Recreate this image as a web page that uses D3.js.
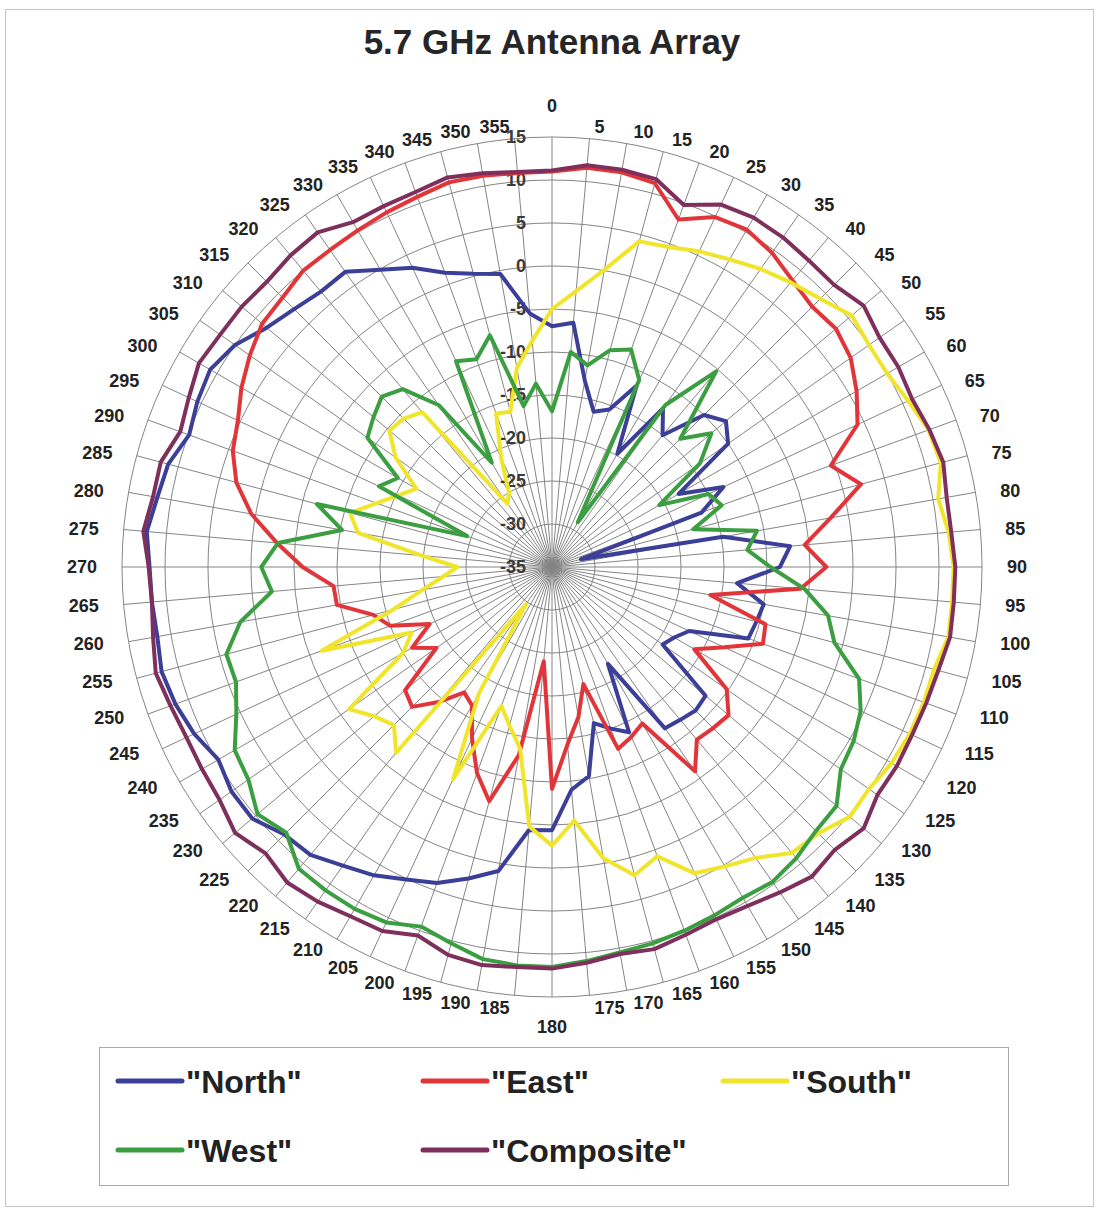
<!DOCTYPE html>
<html>

<head>
    <meta charset="utf-8">
    <script src="https://d3js.org/d3.v7.min.js"></script>
    <style>
        body { margin: 0; background: #fff; }
        text { font-family: "Liberation Sans", Arial, sans-serif; font-weight: bold; }
    </style>
</head>

<body>
    <div id="svg"></div>
    <script>

        // angles, one every 5 degrees
        var angles = d3.range(0, 360, 5);

        // radial ticks (dB)
        var rTicks = [-35, -30, -25, -20, -15, -10, -5, 0, 5, 10, 15];

        // series names and colours
        var names = ['"North"', '"East"', '"South"', '"West"', '"Composite"'];
        var colors = ["#3c3f97", "#e2353a", "#f1e52c", "#3b9e40", "#7e2f5b"];

        // values, 0..355 deg
        var north = [-7, -6.5, -13, -16.3, -15.5, -11.7, -19.8, -12.5, -15, -10, -8.6, -10,
            -18, -13, -16.5, -31.5, -14.8, -7.2, -8.5, -13.4, -10, -10.4, -10.7, -17.4,
            -18.6, -19.3, -11.7, -11.4, -11.8, -12.1, -22, -13.8, -15, -16.2, -10.3, -9,
            -4.4, -4.3, 0.9, 2.5, 4.1, 5.1, 6.4, 7.4, 8.7, 9.0, 10.5, 10.5,
            9.8, 10.9, 11.6, 12.0, 11.6, 11.7, 11.8, 12.3, 11.6, 11.2, 9.9, 10.5,
            10.9, 10.0, 8.3, 7.4, 6.8, 6.9, 4.9, 3.4, 1.4, 0.3, -0.4, -5.4];

        var east = [11, 11.6, 11.6, 11.2, 8, 9.9, 10.3, 9.6, 8.5, 7.8, 8.1, 7.4,
            5.9, 4.2, -0.5, 2.2, -2.1, -5.5, -3.1, -6, -16.3, -9.3, -8.9, -12.9,
            -15.9, -10.2, -8.2, -8.5, -8.8, -6, -14, -13.2, -12.5, -20.9, -17.3, -14.3,
            -9.2, -24, -12.8, -6.8, -9.5, -13, -16.4, -17.2, -14.5, -12, -12.7, -18.6,
            -16.2, -19.3, -15, -13.5, -9.6, -9.5, -6, -2.9, 0.5, 3, 4.5, 5.3,
            6.7, 7.9, 9, 9.3, 10, 10, 10.2, 10.5, 10.8, 11.3, 11.2, 11];

        var south = [-5, -2.8, 0.1, 4.2, 4.6, 5.5, 6.3, 7.3, 8.2, 9.1, 10.5, 10,
            10, 10.7, 11.6, 11.8, 10.6, 11.3, 11.7, 11.7, 11.8, 11, 11, 10.9,
            10.6, 10, 10.2, 8.8, 8.4, 6.3, 5.2, 4.3, 0.8, 2.1, -0.6, -5.4,
            -2.6, -4.7, -13.6, -15.9, -17.8, -7.8, -18, -29.7, -6.8, -9, -8, -6.2,
            -15, -17, -6.5, -15.9, -19.7, -22.3, -24, -19.8, -12.1, -10.7, -13.3, -15.3,
            -16.8, -12.8, -10.3, -10.6, -11.5, -26, -25, -21, -16, -16.3, -11.5, -8.6];

        var west = [-16.9, -9.9, -11.2, -8.9, -8.1, -11, -29, -12, -5.3, -13.9, -10.8, -14,
            -20.6, -14.9, -14, -18, -10.8, -12.2, -9.6, -5.5, -2.4, -1, 3, 4.6,
            5.5, 6, 8.2, 8.4, 9.2, 9.7, 9.4, 9.7, 10, 10.3, 10.5, 11,
            11.5, 11.5, 11.3, 10.3, 9.5, 10.6, 10.9, 10.9, 10.8, 8.7, 9.7, 8.1,
            7.6, 5.5, 4.1, 4.2, 1.8, -2.3, -1.2, -3, -10.2, -6.7, -24.5, -12.8,
            -14.3, -8.8, -7.9, -7, -8, -12, -21, -8.6, -9.3, -7.1, -16, -13.6];

        var composite = [11.1, 11.9, 11.9, 11.7, 9.8, 11.5, 11.9, 11.8, 11.5, 11.4, 12.3, 11.5,
            11.5, 11.2, 11.7, 12.1, 11.6, 11.6, 11.9, 11.9, 12.0, 11.5, 11.3, 11.2,
            11.3, 11.2, 12.3, 11.5, 12.0, 11.2, 10.5, 10.2, 10.5, 11.0, 10.7, 11.2,
            11.7, 11.7, 12.0, 11.7, 10.6, 11.7, 11.9, 12.5, 12.9, 12.1, 13.1, 12.2,
            12.0, 11.9, 12.2, 12.7, 12.1, 11.7, 11.9, 12.7, 12.1, 12.1, 11.0, 11.6,
            12.4, 12.1, 12.1, 11.9, 12.3, 12.5, 11.3, 11.3, 11.4, 11.9, 11.5, 11.1];

        var series = [north, east, south, west, composite];

        // size and position of the chart
        var width = 1104,
            height = 1217,
            cx = 552,
            cy = 567,
            radius = 430;

        var svg = d3.select("#svg")
            .append("svg")
            .attr("width", width)
            .attr("height", height);

        svg.append("rect")
            .attr("width", width)
            .attr("height", height)
            .attr("fill", "#fff");

        // outer frame
        svg.append("rect")
            .attr("x", 5.5)
            .attr("y", 9.5)
            .attr("width", 1088)
            .attr("height", 1197)
            .attr("fill", "none")
            .attr("stroke", "#c4c4c4");

        svg.append("text")
            .attr("x", 552)
            .attr("y", 54)
            .attr("text-anchor", "middle")
            .attr("font-size", 35)
            .attr("fill", "#262626")
            .text("5.7 GHz Antenna Array");

        // scales
        var r = d3.scaleLinear()
            .domain([-35, 15])
            .range([0, radius]);

        var a = d3.scaleLinear()
            .domain([0, 360])
            .range([0, 2 * Math.PI]);

        var g = svg.append("g")
            .attr("transform", "translate(" + cx + "," + cy + ")");

        // rings
        g.selectAll(".ring")
            .data(rTicks.slice(1))
            .enter()
            .append("circle")
            .attr("r", function(d) { return r(d); })
            .attr("fill", "none")
            .attr("stroke", "#858585")
            .attr("stroke-width", 1);

        // spokes
        g.selectAll(".spoke")
            .data(angles)
            .enter()
            .append("line")
            .attr("x1", 0)
            .attr("y1", 0)
            .attr("x2", function(d) { return radius * Math.sin(a(d)); })
            .attr("y2", function(d) { return -radius * Math.cos(a(d)); })
            .attr("stroke", "#858585")
            .attr("stroke-width", 1);

        // radial axis labels
        g.selectAll(".rlab")
            .data(rTicks)
            .enter()
            .append("text")
            .attr("x", -26)
            .attr("y", function(d) { return -r(d); })
            .attr("dy", "0.35em")
            .attr("text-anchor", "end")
            .attr("font-size", 18)
            .attr("fill", "#3a3a3a")
            .text(function(d) { return d; });

        // angle labels
        g.selectAll(".alab")
            .data(angles)
            .enter()
            .append("text")
            .attr("x", function(d) {
                if (d == 0 || d == 180) return 0;
                var s = Math.sin(a(d));
                return 452 * s + (s > 0 ? 3 : -3);
            })
            .attr("y", function(d) {
                if (d == 0) return -461;
                if (d == 180) return 460;
                return -442 * Math.cos(a(d));
            })
            .attr("dy", "0.35em")
            .attr("text-anchor", function(d) {
                if (d == 0 || d == 180) return "middle";
                return d < 180 ? "start" : "end";
            })
            .attr("font-size", 18)
            .attr("fill", "#222")
            .text(function(d) { return d; });

        // the five series
        var line = d3.lineRadial()
            .angle(function(d, i) { return a(angles[i]); })
            .radius(function(d) { return r(d); })
            .curve(d3.curveLinearClosed);

        g.selectAll(".series")
            .data(series)
            .enter()
            .append("path")
            .attr("d", function(d) { return line(d); })
            .attr("fill", "none")
            .attr("stroke", function(d, i) { return colors[i]; })
            .attr("stroke-width", 4)
            .attr("stroke-linejoin", "round");

        // legend
        svg.append("rect")
            .attr("x", 99.5)
            .attr("y", 1047.5)
            .attr("width", 909)
            .attr("height", 138)
            .attr("fill", "none")
            .attr("stroke", "#a8a8a8");

        var legX = [118, 423, 723, 118, 423],
            legY = [1081, 1081, 1081, 1150, 1150];

        var leg = svg.selectAll(".leg")
            .data(names)
            .enter()
            .append("g")
            .attr("transform", function(d, i) {
                return "translate(" + legX[i] + "," + legY[i] + ")";
            });

        leg.append("line")
            .attr("x1", 0)
            .attr("x2", 64)
            .attr("stroke", function(d, i) { return colors[i]; })
            .attr("stroke-width", 5)
            .attr("stroke-linecap", "round");

        leg.append("text")
            .attr("x", 68)
            .attr("dy", "0.36em")
            .attr("font-size", 32)
            .attr("fill", "#222")
            .text(function(d) { return d; });

    </script>
</body>

</html>
